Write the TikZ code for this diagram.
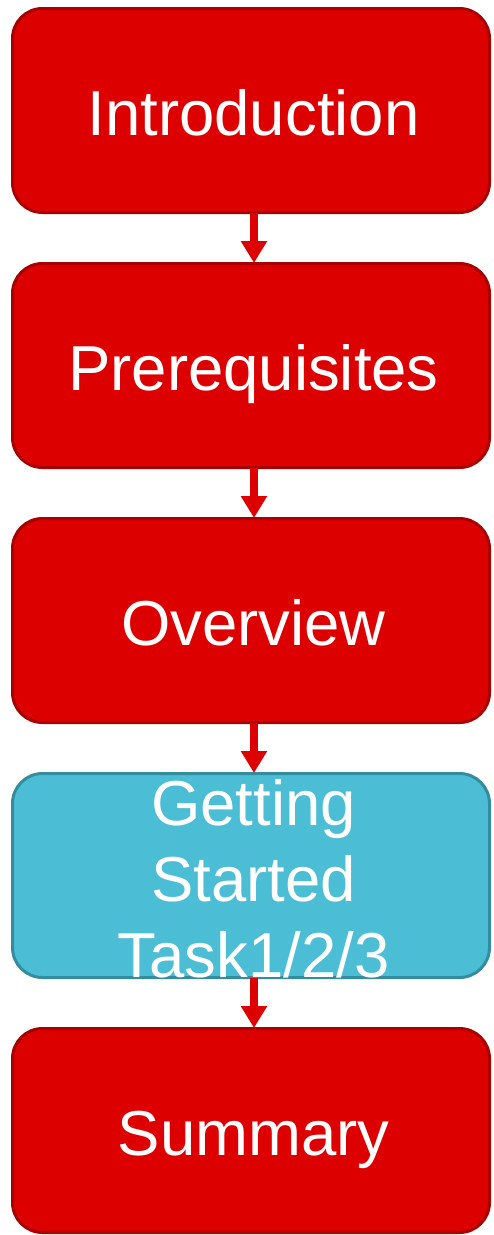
\documentclass[tikz,border=0pt]{standalone}
\usepackage{fontspec}
\setmainfont{Liberation Sans}
\usetikzlibrary{arrows.meta}
\definecolor{redfill}{RGB}{221,0,0}
\definecolor{redline}{RGB}{168,0,0}
\definecolor{tealfill}{RGB}{75,190,214}
\definecolor{tealline}{RGB}{52,140,160}
\tikzset{
  stagebox/.style={draw=redline, fill=redfill, line width=3pt, rounded corners=30pt,
    minimum width=477pt, minimum height=204pt, inner sep=0pt},
  activebox/.style={stagebox, draw=tealline, fill=tealfill},
  boxtext/.style={text=white, font=\fontsize{63.5}{76}\selectfont, align=center, inner sep=0pt, anchor=base},
  flow/.style={draw=redfill, line width=8pt, -{Triangle[width=25pt,length=22pt]}}
}
\begin{document}
\begin{tikzpicture}[x=1pt,y=-1pt]
\useasboundingbox (0,0) rectangle (493,1235);
\node[stagebox] (b1) at (251,110.5) {};
\node[stagebox] (b2) at (251,365.5) {};
\node[stagebox] (b3) at (251,620.5) {};
\node[activebox] (b4) at (251,875.5) {};
\node[stagebox] (b5) at (251,1130.5) {};
\node[boxtext] (t1) at (253.5,135) {Introduction};
\node[boxtext] (t2) at (253.5,390) {Prerequisites};
\node[boxtext] (t3) at (253.5,645) {Overview};
\node[boxtext] (t4) at (253.5,977) {Getting\\Started\\Task1/2/3};
\node[boxtext] (t5) at (253.5,1155) {Summary};
\draw[flow] ([xshift=3pt,yshift=1.5pt]b1.south) -- ([xshift=3pt,yshift=-1pt]b2.north);
\draw[flow] ([xshift=3pt,yshift=1.5pt]b2.south) -- ([xshift=3pt,yshift=-1pt]b3.north);
\draw[flow] ([xshift=3pt,yshift=1.5pt]b3.south) -- ([xshift=3pt,yshift=-1pt]b4.north);
\draw[flow] ([xshift=3pt,yshift=1.5pt]b4.south) -- ([xshift=3pt,yshift=-1pt]b5.north);
\end{tikzpicture}
\end{document}
